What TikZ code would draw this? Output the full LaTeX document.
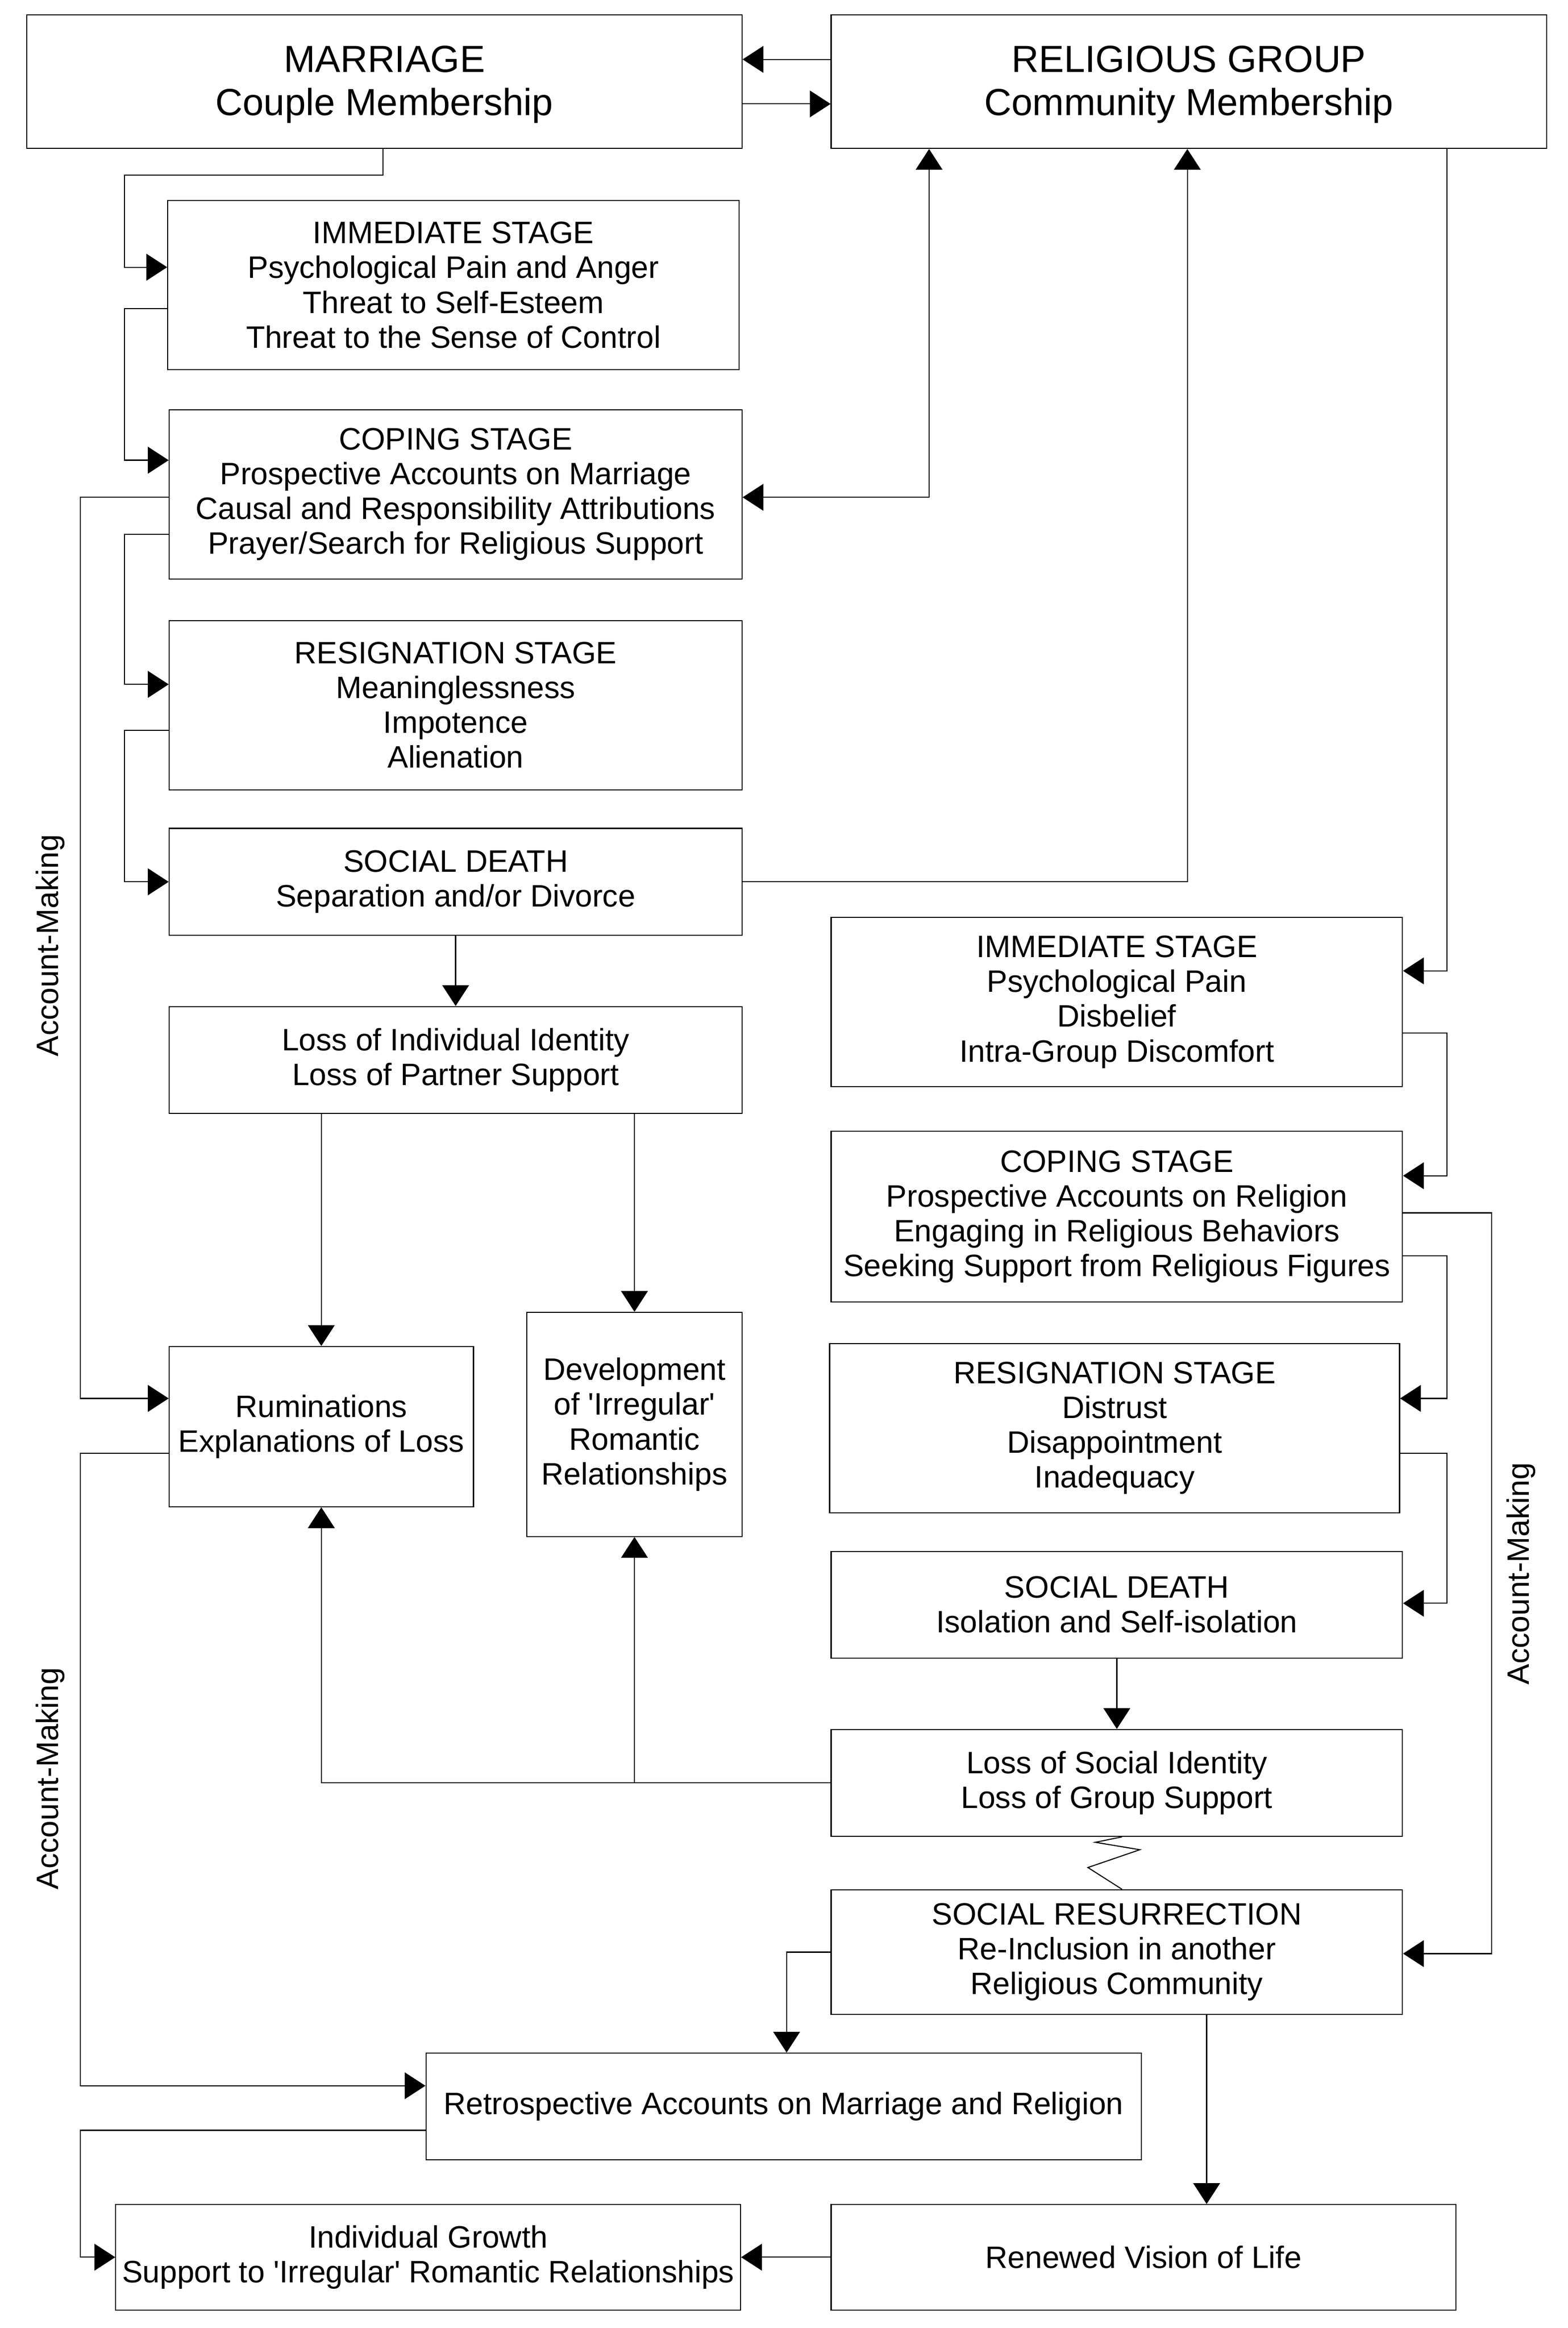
\documentclass[tikz,border=0pt]{standalone}
\usepackage{fontspec}
\setmainfont{Liberation Sans}
\newfontfamily\nf{Liberation Sans}
\usetikzlibrary{arrows.meta}
\newcommand\fsmall{\nf\fontsize{17.8}{20}\selectfont}
\newcommand\fbig{\nf\fontsize{21.7}{24.7}\selectfont}
\begin{document}
\begin{tikzpicture}[x=0.3mm,y=-0.3mm,
  box/.style={draw, line width=0.6pt, inner sep=0pt, align=center, font=\fsmall},
  bigbox/.style={draw, line width=0.6pt, inner sep=0pt},
  bigtext/.style={font=\fbig, align=center, inner sep=0pt, yshift=-0.6mm},
  conn/.style={line width=0.6pt, -{Triangle[length=4.2mm,width=5.4mm]}},
  dconn/.style={line width=0.6pt, {Triangle[length=4.2mm,width=5.4mm]}-{Triangle[length=4.2mm,width=5.4mm]}},
  plain/.style={line width=0.6pt},
  lbl/.style={font=\fsmall, rotate=90}]
\useasboundingbox (0,0) rectangle (1056.2,1568.2);
% top boxes
\node[bigbox, minimum width=144.6mm, minimum height=27mm, label={[bigtext]center:{MARRIAGE\\Couple Membership}}] (mar) at (259,55) {};
\node[bigbox, minimum width=144.6mm, minimum height=27mm, label={[bigtext]center:{RELIGIOUS GROUP\\Community Membership}}] (rel) at (801,55) {};
% left column
\node[box, minimum width=115.5mm, minimum height=34.2mm] (imL) at (305.5,192) {IMMEDIATE STAGE\\Psychological Pain and Anger\\Threat to Self-Esteem\\Threat to the Sense of Control};
\node[box, minimum width=115.8mm, minimum height=34.2mm] (copL) at (307,333) {COPING STAGE\\Prospective Accounts on Marriage\\Causal and Responsibility Attributions\\Prayer/Search for Religious Support};
\node[box, minimum width=115.8mm, minimum height=34.2mm] (resL) at (307,475) {RESIGNATION STAGE\\Meaninglessness\\Impotence\\Alienation};
\node[box, minimum width=115.8mm, minimum height=21.6mm] (sdL) at (307,594) {SOCIAL DEATH\\Separation and/or Divorce};
\node[box, minimum width=115.8mm, minimum height=21.6mm] (lossI) at (307,714) {Loss of Individual Identity\\Loss of Partner Support};
\node[box, minimum width=61.5mm, minimum height=32.4mm] (rum) at (216.5,961) {Ruminations\\Explanations of Loss};
\node[box, minimum width=43.5mm, minimum height=45.3mm] (dev) at (427.5,959.5) {Development\\of 'Irregular'\\Romantic\\Relationships};
% right column
\node[box, minimum width=115.5mm, minimum height=34.2mm] (imR) at (752.5,675) {IMMEDIATE STAGE\\Psychological Pain\\Disbelief\\Intra-Group Discomfort};
\node[box, minimum width=115.5mm, minimum height=34.5mm] (copR) at (752.5,819.5) {COPING STAGE\\Prospective Accounts on Religion\\Engaging in Religious Behaviors\\Seeking Support from Religious Figures};
\node[box, minimum width=115.2mm, minimum height=34.2mm] (resR) at (751,962) {RESIGNATION STAGE\\Distrust\\Disappointment\\Inadequacy};
\node[box, minimum width=115.5mm, minimum height=21.6mm] (sdR) at (752.5,1081) {SOCIAL DEATH\\Isolation and Self-isolation};
\node[box, minimum width=115.5mm, minimum height=21.6mm] (lossS) at (752.5,1201) {Loss of Social Identity\\Loss of Group Support};
\node[box, minimum width=115.5mm, minimum height=25.2mm] (resur) at (752.5,1315) {SOCIAL RESURRECTION\\Re-Inclusion in another\\Religious Community};
% bottom
\node[box, minimum width=144.6mm, minimum height=21.6mm] (retro) at (528,1419) {Retrospective Accounts on Marriage and Religion};
\node[box, minimum width=126.3mm, minimum height=21.3mm] (grow) at (288.5,1520.5) {Individual Growth\\Support to 'Irregular' Romantic Relationships};
\node[box, minimum width=126.3mm, minimum height=21.3mm] (renew) at (770.5,1520.5) {Renewed Vision of Life};
% labels
\node[lbl] (am1) at (34,637) {Account-Making};
\node[lbl] (am2) at (34,1198) {Account-Making};
\node[lbl] (am3) at (1025,1060) {Account-Making};
% top connectors
\draw[conn] (rel.west |- 0,40) -- (mar.east |- 0,40);
\draw[conn] (mar.east |- 0,70) -- (rel.west |- 0,70);
% left chain
\draw[conn] (mar.south -| 258,0) -- (258,118) -- (84,118) |- (imL.west |- 0,180);
\draw[conn] (imL.west |- 0,208) -- (84,208) |- (copL.west |- 0,310);
\draw[conn] (copL.west |- 0,335) -- (54,335) |- (rum.west |- 0,942);
\draw[conn] (copL.west |- 0,360) -- (84,360) |- (resL.west |- 0,461);
\draw[conn] (resL.west |- 0,492) -- (84,492) |- (sdL.west |- 0,594);
\draw[dconn] (copL.east |- 0,335) -| (rel.south -| 626,0);
\draw[conn] (sdL.east) -| (rel.south -| 800,0);
\draw[conn] (sdL.south) -- (lossI.north);
\draw[conn] (lossI.south -| rum.north) -- (rum.north);
\draw[conn] (lossI.south -| dev.north) -- (dev.north);
\draw[conn] (lossS.west) -| (rum.south);
\draw[conn] (dev.south |- lossS.west) -- (dev.south);
\draw[conn] (rum.west |- 0,979) -- (54,979) |- (retro.west |- 0,1405);
\draw[conn] (retro.west |- 0,1435) -- (54,1435) |- (grow.west);
\draw[conn] (renew.west) -- (grow.east);
% right chain
\draw[conn] (rel.south -| 975,0) |- (imR.east |- 0,654);
\draw[conn] (imR.east |- 0,696) -- (975,696) |- (copR.east |- 0,792);
\draw[conn] (copR.east |- 0,817) -- (1005,817) |- (resur.east |- 0,1316);
\draw[conn] (copR.east |- 0,846) -- (975,846) |- (resR.east |- 0,942);
\draw[conn] (resR.east |- 0,979) -- (975,979) |- (sdR.east |- 0,1080);
\draw[conn] (sdR.south) -- (lossS.north);
\draw[plain] (lossS.south -| 756,0) -- (738,1241) -- (768,1246) -- (733,1258) -- (resur.north -| 756,0);
\draw[conn] (resur.west) -| (retro.north -| 530,0);
\draw[conn] (resur.south -| 813,0) -- (renew.north -| 813,0);
\end{tikzpicture}
\end{document}
